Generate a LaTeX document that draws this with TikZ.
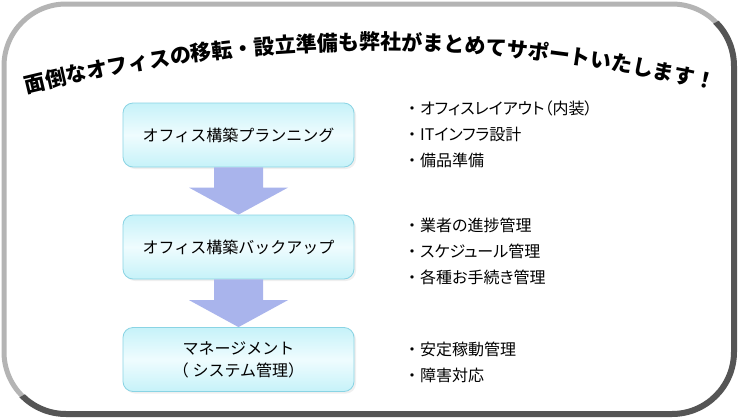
\documentclass[tikz,border=0pt]{standalone}
\usepackage{fontspec}
\newfontfamily\cjk{Noto Sans CJK JP}
\newfontfamily\cjkp{Noto Sans CJK JP}[RawFeature=+palt]
\usetikzlibrary{decorations.text,calc,shadows}
\definecolor{framelight}{HTML}{B4B4B4}
\definecolor{framedark}{HTML}{555555}
\definecolor{boxline}{HTML}{8AD4E4}
\definecolor{boxedge}{HTML}{C6F2F9}
\definecolor{boxmid}{HTML}{EFFCFE}
\definecolor{arrowfill}{HTML}{A9B4EC}
\newcommand\titlefmt{\cjk\bfseries\fontsize{21pt}{24pt}\selectfont}
\newcommand\bul{{\cjk ・}}
\newcommand\stagearrow[2]{%
  \fill[arrowfill] ($(#1.south)+(-24.5,0)$) -- ($(#1.south)+(24.5,0)$)
    -- ($(#2.north)+(24.5,-27)$) -- ($(#2.north)+(49.5,-27)$) -- (#2.north)
    -- ($(#2.north)+(-49.5,-27)$) -- ($(#2.north)+(-24.5,-27)$) -- cycle;}
\begin{document}
\begin{tikzpicture}[x=1pt,y=-1pt,
  stage/.style={rounded corners=10pt, draw=boxline, line width=0.8pt,
    top color=boxedge, bottom color=boxedge, middle color=boxmid,
    drop shadow={opacity=0.12, shadow xshift=2pt, shadow yshift=-2pt},
    minimum width=231pt, minimum height=64pt, align=center, inner sep=0pt,
    font=\cjk\fontsize{16pt}{22pt}\selectfont},
  listitem/.style={anchor=west, inner sep=0pt,
    font=\cjkp\fontsize{16pt}{18pt}\selectfont}]
\useasboundingbox (0,0) rectangle (740,418);
\fill[white] (0,0) rectangle (740,418);
% frame
\begin{scope}
  \clip (-50,-50) -- (-50,433) -- (-47,433) -- (785,-15) -- (785,-50) -- cycle;
  \draw[framelight, line width=5pt, rounded corners=62pt] (4,4) rectangle (734,414);
\end{scope}
\begin{scope}
  \clip (-47,433) -- (785,-15) -- (790,-15) -- (790,470) -- (-50,470) -- (-50,433) -- cycle;
  \draw[framedark, line width=6pt, rounded corners=62pt] (4,4) rectangle (734,414);
\end{scope}
% title
\path[decorate, decoration={text along path, text align=center,
  text={|\titlefmt|面倒なオフィスの移転・設立準備も弊社がまとめてサポートいたします！}}]
  (28,93) .. controls (260,36) and (480,36) .. (712,90);
% stages
\node[stage] (b1) at (238.5,135) {オフィス構築プランニング};
\node[stage] (b2) at (238.5,247) {オフィス構築バックアップ};
\node[stage] (b3) at (238.5,359.5) {マネージメント\\（ システム管理）};
\stagearrow{b1}{b2}
\stagearrow{b2}{b3}
% lists
\node[listitem] (l1) at (404,108) {\bul オフィスレイアウト（内装）};
\node[listitem] (l2) at (404,134) {\bul ITインフラ設計};
\node[listitem] (l3) at (404,160) {\bul 備品準備};
\node[listitem] (l4) at (404,225) {\bul 業者の進捗管理};
\node[listitem] (l5) at (404,251) {\bul スケジュール管理};
\node[listitem] (l6) at (404,277) {\bul 各種お手続き管理};
\node[listitem] (l7) at (404,349) {\bul 安定稼動管理};
\node[listitem] (l8) at (404,375) {\bul 障害対応};
\end{tikzpicture}
\end{document}
